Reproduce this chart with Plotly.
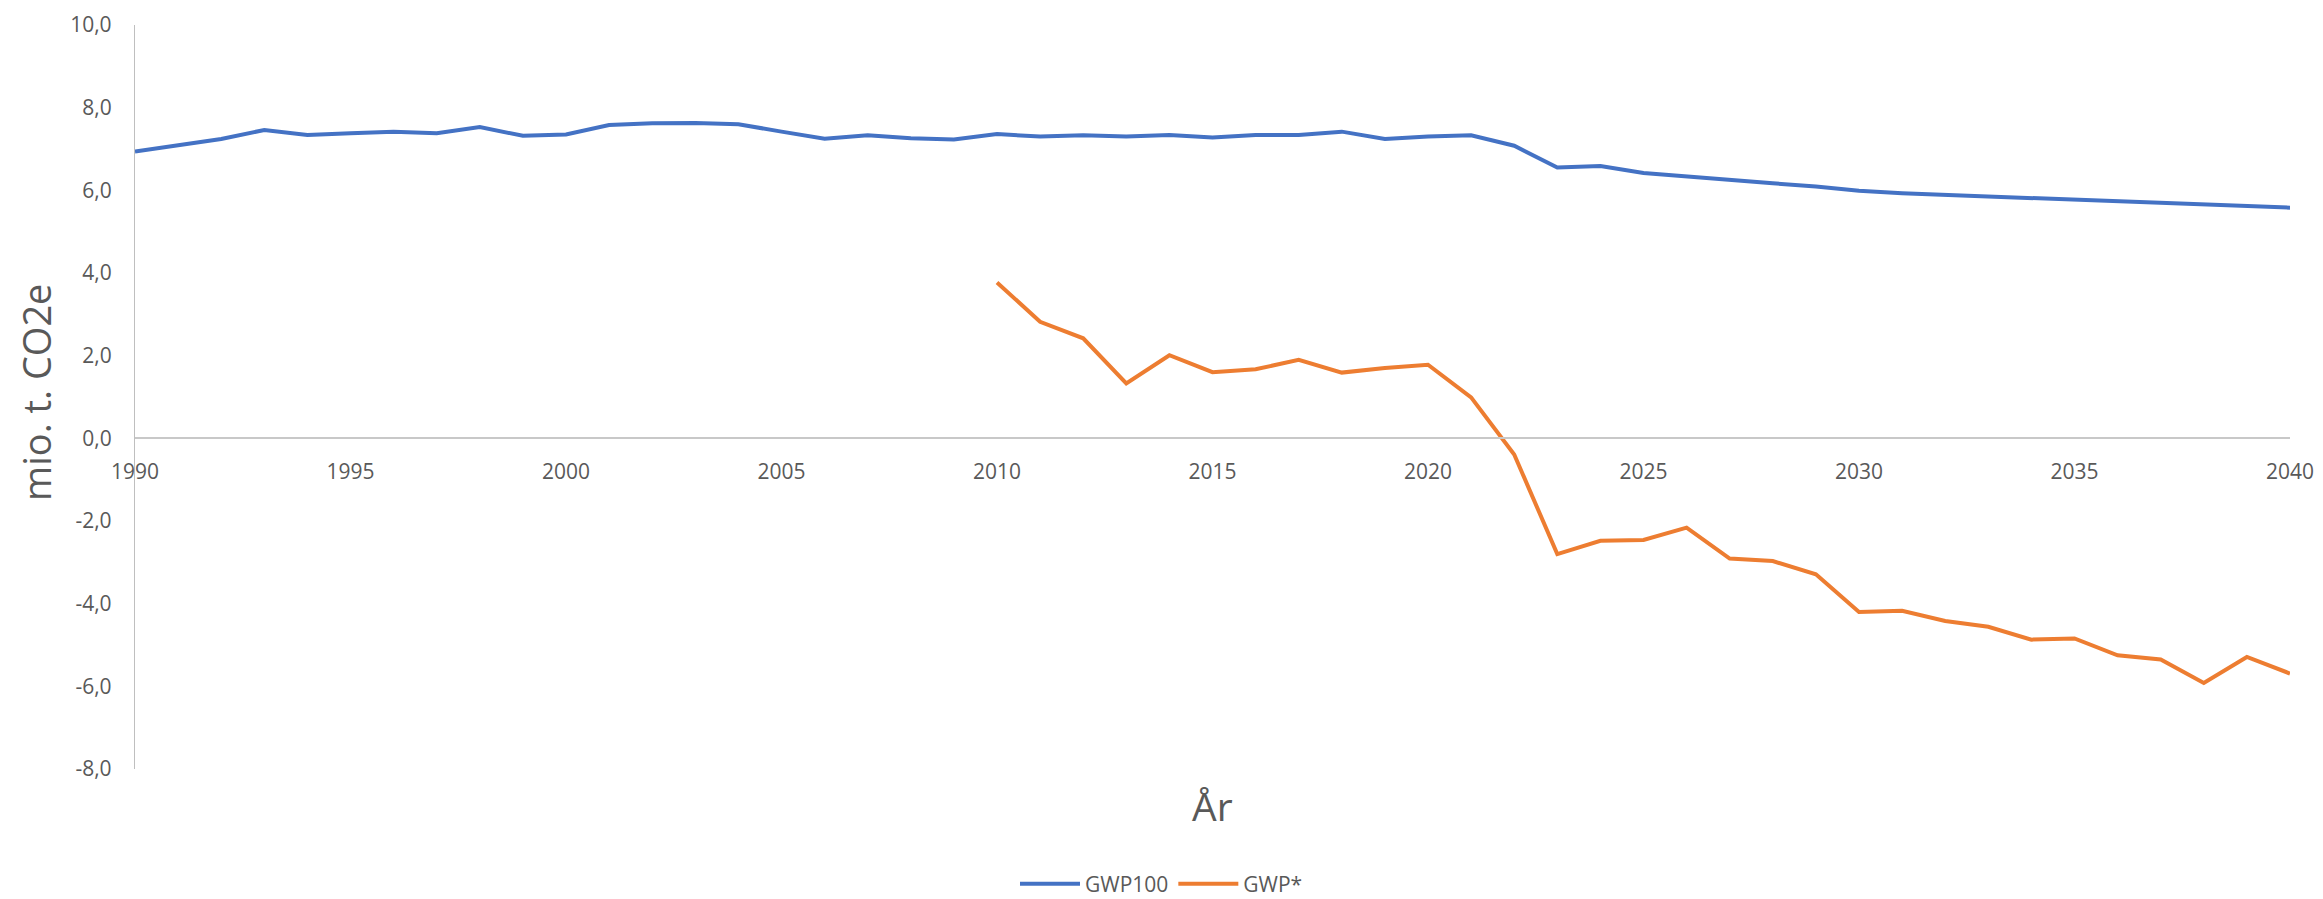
import plotly.graph_objects as go

years = list(range(1990, 2041))

gwp100 = [6.94, 7.10, 7.24, 7.46, 7.34, 7.38, 7.42, 7.38, 7.53, 7.32,
          7.35, 7.58, 7.62, 7.63, 7.60, 7.42, 7.25, 7.33, 7.26, 7.23,
          7.36, 7.30, 7.33, 7.30, 7.34, 7.28, 7.34, 7.34, 7.42, 7.24,
          7.30, 7.33, 7.08, 6.55, 6.59, 6.42, 6.33, 6.24, 6.17, 6.09,
          5.99, 5.93, 5.89, 5.84, 5.80, 5.77, 5.73, 5.70, 5.65, 5.62,
          5.58]

gwp_star_years = list(range(2010, 2041))
gwp_star = [3.77, 2.82, 2.42, 1.33, 2.01, 1.60, 1.67, 1.90, 1.59, 1.70,
            1.78, 0.99, -0.39, -2.80, -2.48, -2.46, -2.16, -2.91, -2.97, -3.29,
            -4.20, -4.17, -4.42, -4.56, -4.87, -4.84, -5.25, -5.35, -5.92, -5.29,
            -5.69]

y_ticks = [-8, -6, -4, -2, 0, 2, 4, 6, 8, 10]
y_tick_labels = ["-8,0", "-6,0", "-4,0", "-2,0", "0,0", "2,0", "4,0", "6,0", "8,0", "10,0"]
x_ticks = list(range(1990, 2041, 5))

FONT = "Open Sans"
GREY = "#595959"

fig = go.Figure()
fig.add_trace(go.Scatter(x=years, y=gwp100, mode="lines", name="GWP100",
                         line=dict(color="#4472C4", width=4)))
fig.add_trace(go.Scatter(x=gwp_star_years, y=gwp_star, mode="lines", name="GWP*",
                         line=dict(color="#ED7D31", width=4)))

ymin, ymax = -8, 10
fig.update_layout(
    width=2323, height=899,
    margin=dict(l=135, r=33, t=25, b=130, autoexpand=False),
    paper_bgcolor="white", plot_bgcolor="white",
    separators=",.",
    font=dict(family=FONT, color=GREY, size=21),
    showlegend=True,
    legend=dict(orientation="h", xref="container", x=0.5, xanchor="center",
                yref="container", y=(899 - 884) / 899, yanchor="middle",
                font=dict(size=21, color=GREY), itemwidth=60, traceorder="normal"),
    xaxis=dict(range=[1990, 2040], tickvals=x_ticks, showgrid=False, zeroline=False,
               showline=True, linecolor="#C8C8C8", linewidth=2, ticks="",
               anchor="free", position=(0 - ymin) / (ymax - ymin), automargin=False,
               tickfont=dict(size=21, color=GREY), ticklabelstandoff=14),
    yaxis=dict(range=[ymin, ymax], tickvals=y_ticks, ticktext=y_tick_labels, showgrid=False,
               zeroline=False, showline=True, linecolor="#BFBFBF", linewidth=1.3,
               ticks="", automargin=False,
               tickfont=dict(size=21, color=GREY), ticklabelstandoff=18),
    annotations=[
        dict(text="År", xref="paper", yref="paper", x=0.5, y=(769 - 805) / 744,
             xanchor="center", yanchor="middle", showarrow=False,
             font=dict(size=39, color=GREY, family=FONT)),
        dict(text="mio. t. CO2e", xref="paper", yref="paper", x=(36 - 135) / 2155,
             y=(769 - 393) / 744, xanchor="center", yanchor="middle", textangle=-90,
             showarrow=False, font=dict(size=38, color=GREY, family=FONT)),
    ],
)

fig.write_html("out.html", config={"displayModeBar": False},
               post_script="document.body.style.margin='0';document.body.style.overflow='hidden';")
